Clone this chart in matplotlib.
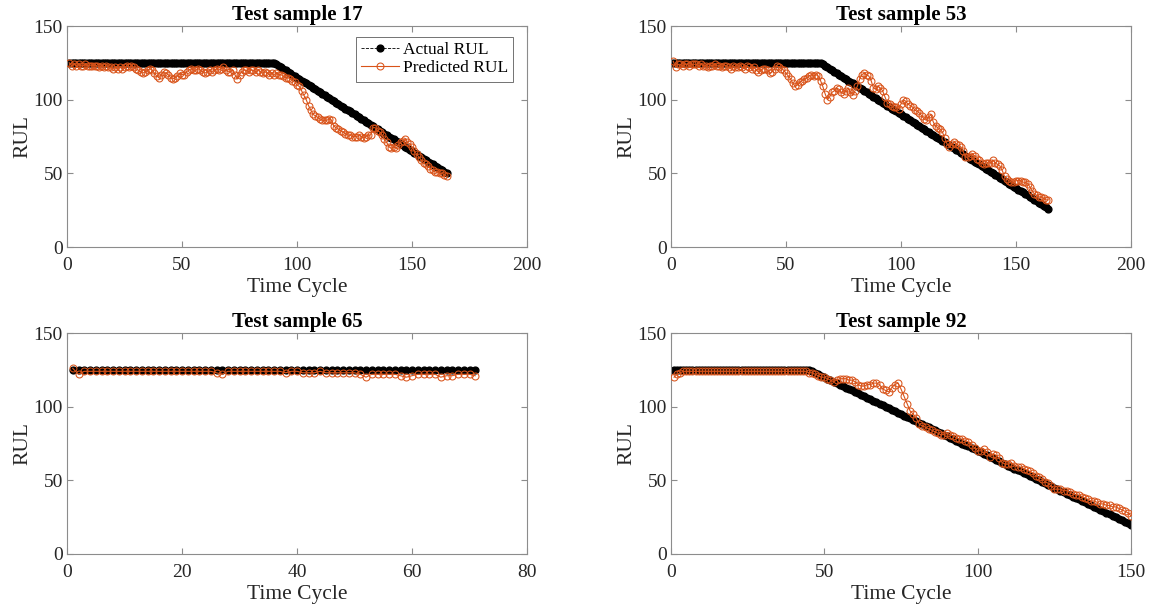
#!/usr/bin/env python3
"""Actual vs predicted RUL for four test engines (2x2 panel figure)."""

import matplotlib
import numpy as np

matplotlib.use("Agg")
import matplotlib.pyplot as plt

RUL_CAP = 125
ORANGE = "#D95319"
AXIS_GRAY = "#8C8C8C"
TEXT_COLOR = "#262626"

# ── data ────────────────────────────────────────────────────────────────────

sample_ids = [17, 53, 65, 92]
n_cycles = [165, 164, 71, 150]
final_rul = [50, 26, 125, 20]
x_limits = [200, 200, 80, 150]
x_steps = [50, 50, 20, 50]

pred_17 = [
    125, 123, 124, 123, 124, 123, 123, 124, 123, 123,
    123, 123, 123, 122, 123, 122, 123, 122, 122, 121,
    122, 121, 122, 121, 122, 123, 122, 123, 122, 121,
    120, 119, 118, 119, 120, 121, 120, 118, 116, 115,
    117, 119, 118, 117, 115, 114, 115, 116, 118, 117,
    117, 119, 120, 121, 120, 120, 121, 120, 119, 118,
    119, 120, 119, 120, 121, 120, 121, 122, 120, 119,
    119, 120, 117, 114, 117, 119, 120, 120, 119, 120,
    120, 119, 120, 119, 118, 119, 118, 117, 118, 117,
    118, 117, 117, 116, 115, 115, 114, 113, 112, 110,
    109, 106, 103, 100, 96, 93, 90, 89, 88, 87,
    86, 86, 86, 87, 86, 82, 81, 80, 79, 78,
    77, 76, 76, 75, 75, 75, 76, 75, 74, 75,
    76, 76, 81, 81, 79, 78, 76, 73, 71, 68,
    67, 68, 67, 69, 71, 72, 73, 71, 70, 68,
    65, 63, 61, 59, 57, 56, 55, 53, 52, 51,
    51, 50, 50, 49, 48,
]

pred_53 = [
    126, 122, 124, 124, 123, 124, 124, 123, 124, 124,
    124, 123, 124, 123, 123, 122, 123, 123, 124, 123,
    123, 122, 123, 123, 122, 121, 123, 122, 122, 123,
    122, 121, 123, 122, 121, 122, 120, 119, 120, 121,
    121, 120, 118, 119, 121, 123, 122, 121, 120, 118,
    116, 114, 111, 109, 110, 112, 113, 114, 115, 116,
    117, 116, 117, 116, 113, 109, 104, 100, 102, 105,
    106, 108, 107, 105, 104, 106, 108, 105, 103, 106,
    109, 114, 117, 118, 117, 116, 113, 108, 107, 109,
    108, 106, 102, 98, 97, 96, 95, 95, 94, 97,
    100, 99, 97, 96, 95, 93, 92, 91, 89, 87,
    86, 88, 90, 85, 82, 81, 80, 78, 74, 70,
    68, 70, 71, 70, 69, 68, 65, 61, 61, 62,
    63, 62, 60, 59, 57, 56, 57, 57, 57, 59,
    57, 56, 55, 52, 48, 46, 45, 44, 44, 45,
    45, 45, 44, 44, 43, 41, 38, 36, 35, 34,
    34, 33, 32, 32,
]

pred_65 = [
    126, 122, 124, 124, 124, 124, 124, 124, 124, 124,
    124, 124, 124, 124, 124, 124, 124, 124, 124, 124,
    124, 124, 124, 124, 124, 123, 122, 124, 124, 124,
    124, 124, 124, 124, 124, 124, 124, 123, 124, 124,
    123, 123, 123, 124, 123, 123, 123, 123, 123, 123,
    122, 120, 122, 122, 122, 122, 122, 121, 120, 121,
    122, 122, 122, 122, 120, 121, 121, 122, 122, 122,
    121,
]

pred_92 = [
    120, 122, 123, 124, 124, 124, 124, 124, 124, 124,
    124, 124, 124, 124, 124, 124, 124, 124, 124, 124,
    124, 124, 124, 124, 124, 124, 124, 124, 124, 124,
    124, 124, 124, 124, 124, 124, 124, 124, 124, 124,
    124, 124, 124, 124, 123, 123, 122, 121, 120, 120,
    119, 118, 117, 118, 119, 119, 119, 118, 118, 117,
    115, 114, 114, 115, 115, 116, 116, 115, 112, 111,
    110, 113, 115, 116, 112, 107, 102, 97, 95, 92,
    88, 87, 86, 85, 84, 83, 82, 81, 81, 82,
    81, 80, 79, 78, 78, 77, 76, 74, 72, 70,
    70, 71, 69, 66, 68, 67, 65, 62, 61, 61,
    62, 60, 59, 59, 58, 57, 56, 55, 53, 52,
    51, 49, 48, 46, 44, 44, 44, 43, 43, 42,
    41, 40, 40, 39, 38, 37, 36, 36, 35, 34,
    34, 33, 33, 32, 32, 31, 30, 29, 28, 26,
]

predictions = [pred_17, pred_53, pred_65, pred_92]

# axes boxes in figure pixels: (left, top) of each panel, all 460 x 221
FIG_W, FIG_H = 1152, 610
PANEL_ORIGINS = [(67, 26), (671, 26), (67, 333), (671, 333)]
PANEL_W, PANEL_H = 460, 221


def _apply_style() -> None:
    plt.rcParams.update(
        {
            "font.family": ["Liberation Serif", "DejaVu Serif"],
            "font.size": 11,
            "axes.edgecolor": AXIS_GRAY,
            "axes.linewidth": 0.8,
            "xtick.color": AXIS_GRAY,
            "ytick.color": AXIS_GRAY,
            "xtick.labelcolor": TEXT_COLOR,
            "ytick.labelcolor": TEXT_COLOR,
            "xtick.labelsize": 14,
            "ytick.labelsize": 14,
            "xtick.direction": "in",
            "ytick.direction": "in",
            "xtick.top": True,
            "ytick.right": True,
            "xtick.major.size": 4,
            "ytick.major.size": 4,
        }
    )


def actual_rul(n: int, final: int) -> tuple[np.ndarray, np.ndarray]:
    """Piecewise-linear target: capped at RUL_CAP, reaching *final* at cycle *n*."""
    cycles = np.arange(1, n + 1)
    return cycles, np.minimum(RUL_CAP, final + n - cycles)


def draw_panel(ax, idx: int) -> None:
    cycles, target = actual_rul(n_cycles[idx], final_rul[idx])
    pred = np.asarray(predictions[idx])

    ax.plot(
        cycles, target, "--", color="black", lw=0.6,
        marker="o", ms=4.9, mfc="black", mec="black", label="Actual RUL", zorder=2,
    )
    ax.plot(
        cycles, pred, "-", color=ORANGE, lw=0.8,
        marker="o", ms=5.0, mfc="none", mec=ORANGE, mew=0.75, label="Predicted RUL", zorder=3,
    )

    ax.set_xlim(0, x_limits[idx])
    ax.set_ylim(0, 150)
    ax.set_xticks(np.arange(0, x_limits[idx] + 1, x_steps[idx]))
    ax.set_yticks([0, 50, 100, 150])
    ax.tick_params(axis="x", pad=7)
    ax.tick_params(axis="y", pad=3)
    ax.set_title(f"Test sample {sample_ids[idx]}", fontsize=15, fontweight="bold",
                 color="black", pad=4)
    ax.set_xlabel("Time Cycle", fontsize=15.5, color=TEXT_COLOR, labelpad=3)
    ax.set_ylabel("RUL", fontsize=15.5, color=TEXT_COLOR, labelpad=1)


def main() -> None:
    _apply_style()
    fig = plt.figure(figsize=(FIG_W / 100, FIG_H / 100), dpi=100)
    for idx, (left, top) in enumerate(PANEL_ORIGINS):
        rect = [left / FIG_W, 1 - (top + PANEL_H) / FIG_H, PANEL_W / FIG_W, PANEL_H / FIG_H]
        ax = fig.add_axes(rect)
        draw_panel(ax, idx)
        if idx == 0:
            leg = ax.legend(
                loc="upper right", bbox_to_anchor=(0.97, 0.95), fontsize=12.5,
                frameon=True, fancybox=False, borderpad=0.3, handlelength=2.2,
                handletextpad=0.2, labelspacing=0.1, borderaxespad=0,
            )
            leg.get_frame().set_edgecolor("#333333")
            leg.get_frame().set_linewidth(0.6)
    fig.savefig("out.png", dpi=100)
    plt.close(fig)


if __name__ == "__main__":
    main()
